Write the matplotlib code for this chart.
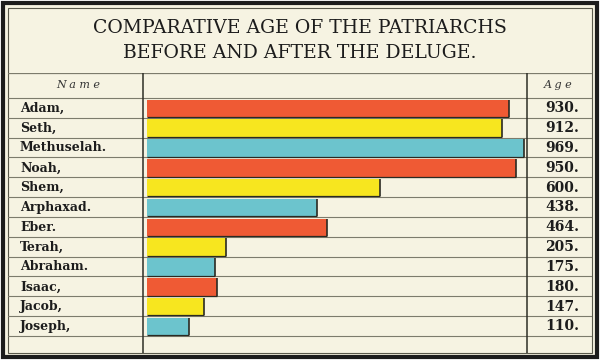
import matplotlib
matplotlib.use('Agg')
import matplotlib.pyplot as plt
from matplotlib.patches import Rectangle

# Data
names = ['Adam,', 'Seth,', 'Methuselah.', 'Noah,', 'Shem,', 'Arphaxad.',
         'Eber.', 'Terah,', 'Abraham.', 'Isaac,', 'Jacob,', 'Joseph,']
ages = [930, 912, 969, 950, 600, 438, 464, 205, 175, 180, 147, 110]
age_labels = ['930.', '912.', '969.', '950.', '600.', '438.',
              '464.', '205.', '175.', '180.', '147.', '110.']
palette = ['#ef5a34', '#f7e61f', '#6cc4cd']

paper = '#f6f3e2'
ink = '#1c1c1c'
rule = '#7c7b6c'
W, H = 600, 360


def fx(px):
    return px / W


def fy(py):
    return 1 - py / H


fig = plt.figure(figsize=(6, 3.6), dpi=100, facecolor='white')

# paper + frames (behind the axes)
fig.patches.append(Rectangle((fx(3), fy(357)), fx(594), 354 / H, transform=fig.transFigure,
                             facecolor=paper, edgecolor=ink, linewidth=3, zorder=-2))
fig.patches.append(Rectangle((fx(7.5), fy(352.5)), fx(584), 345 / H, transform=fig.transFigure,
                             facecolor='none', edgecolor='#5a5a4c', linewidth=0.8, zorder=-1))

fig.text(0.5, fy(28), 'COMPARATIVE AGE OF THE PATRIARCHS', ha='center', va='center',
         family='DejaVu Serif', fontsize=13.6, color=ink)
fig.text(0.5, fy(53), 'BEFORE AND AFTER THE DELUGE.', ha='center', va='center',
         family='DejaVu Serif', fontsize=13.6, color=ink)

n = len(names)
row_px = 19.83
top_px, bot_px = 73, 352.5
ytop = -(98 - top_px) / row_px
ybot = n + (bot_px - (98 + n * row_px)) / row_px

# table axes (rules and text)
tab = fig.add_axes([fx(7.5), fy(bot_px), fx(584), (bot_px - top_px) / H])
tab.set_xlim(0, 1)
tab.set_ylim(ybot, ytop)
tab.axis('off')
for i in range(n + 1):
    tab.axhline(i, color=rule, linewidth=0.8)
tab.axhline(ytop, color=rule, linewidth=0.9)
for xp in (143, 527):
    tab.axvline((xp - 7.5) / 584, color='#2e2e26', linewidth=1.1)

tab.text((78 - 7.5) / 584, ytop / 2, 'N a m e', ha='center', va='center',
         family='DejaVu Serif', style='italic', fontsize=8, color='#333')
tab.text((558 - 7.5) / 584, ytop / 2, 'A g e', ha='center', va='center',
         family='DejaVu Serif', style='italic', fontsize=8, color='#333')

for i, (nm, lab) in enumerate(zip(names, age_labels)):
    tab.text((20 - 7.5) / 584, i + 0.52, nm, ha='left', va='center',
             family='DejaVu Serif', weight='bold', fontsize=9, color=ink)
    tab.text((562 - 7.5) / 584, i + 0.52, lab, ha='center', va='center',
             family='DejaVu Serif', weight='bold', fontsize=10, color=ink)

# bar axes
ax = fig.add_axes([fx(143), fy(bot_px), fx(384), (bot_px - top_px) / H])
ax.set_ylim(ybot, ytop)
ax.set_xlim(-9, 977)
ax.axis('off')
colors = [palette[i % 3] for i in range(n)]
ypos = [i + 0.52 for i in range(n)]
ax.barh(ypos, ages, height=0.88, color=colors, linewidth=0)
# dark shadow on right and bottom edges of each bar
ax.vlines(ages, [y - 0.44 for y in ypos], [y + 0.44 for y in ypos], color='#2a2a22', linewidth=1.2)
ax.hlines([y + 0.44 for y in ypos], 0, ages, color='#2a2a22', linewidth=0.9)

fig.savefig('out.png', dpi=100, facecolor='white')
